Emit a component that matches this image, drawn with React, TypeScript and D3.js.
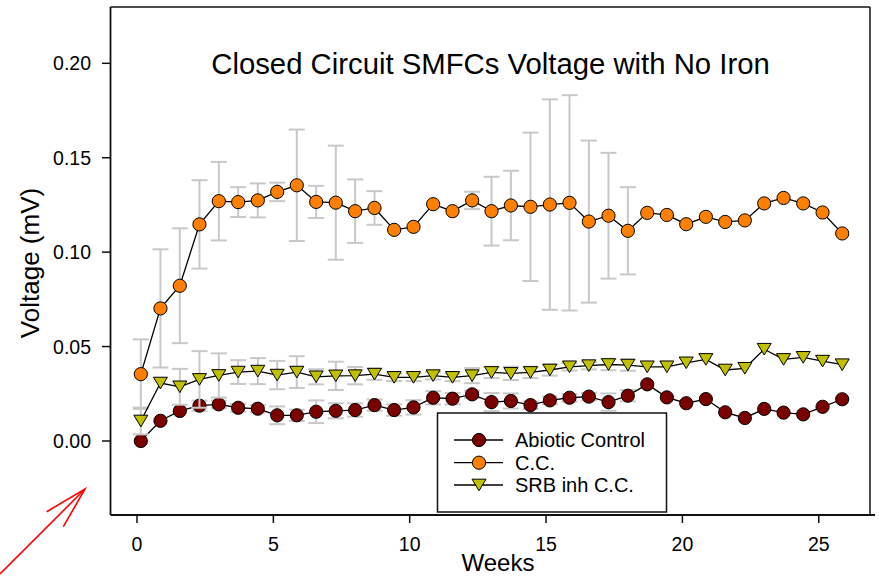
import React from "react";
import * as d3 from "d3";

// ---------- data ----------
const weeks = [0.14, 0.86, 1.57, 2.29, 3.0, 3.71, 4.43, 5.14, 5.86, 6.57, 7.29, 8.0, 8.71, 9.43, 10.14, 10.86, 11.57, 12.29, 13.0, 13.71, 14.43, 15.14, 15.86, 16.57, 17.29, 18.0, 18.71, 19.43, 20.14, 20.86, 21.57, 22.29, 23.0, 23.71, 24.43, 25.14, 25.86];

const abioticVoltage = [0.0, 0.0107, 0.0159, 0.0187, 0.0194, 0.0176, 0.0171, 0.0136, 0.0136, 0.0155, 0.016, 0.0164, 0.019, 0.0164, 0.0178, 0.0229, 0.0224, 0.0247, 0.0206, 0.0212, 0.019, 0.0215, 0.0229, 0.0235, 0.0206, 0.024, 0.03, 0.0231, 0.02, 0.0222, 0.0152, 0.0122, 0.017, 0.015, 0.0141, 0.0181, 0.0221];
const abioticErr = [0, 0, 0, 0.0027, 0.002, 0.002, 0.002, 0.0047, 0.003, 0.006, 0.004, 0.0035, 0.003, 0.003, 0.0038, 0.0035, 0.003, 0.002, 0.0048, 0.004, 0.002, 0.002, 0.002, 0.002, 0.0046, 0.003, 0, 0, 0, 0, 0, 0, 0, 0, 0, 0, 0];

const ccVoltage = [0.0354, 0.0702, 0.0822, 0.1147, 0.127, 0.1265, 0.1274, 0.1319, 0.1354, 0.1266, 0.1262, 0.1217, 0.1234, 0.1118, 0.1134, 0.1254, 0.1217, 0.1274, 0.1217, 0.1247, 0.124, 0.1252, 0.1261, 0.1162, 0.1193, 0.1113, 0.1208, 0.1197, 0.1148, 0.1187, 0.116, 0.1168, 0.1258, 0.1287, 0.1258, 0.121, 0.1099];
const ccErr = [0.0184, 0.0313, 0.0304, 0.0234, 0.0208, 0.0079, 0.009, 0.0049, 0.0295, 0.0085, 0.0302, 0.0168, 0.0089, 0, 0, 0, 0, 0.0046, 0.0182, 0.0184, 0.0393, 0.0557, 0.057, 0.0429, 0.0333, 0.0231, 0, 0, 0, 0, 0, 0, 0, 0, 0, 0, 0];

const srbVoltage = [0.0106, 0.0307, 0.0287, 0.0326, 0.0347, 0.0365, 0.037, 0.0349, 0.0365, 0.034, 0.0345, 0.0346, 0.0354, 0.0337, 0.0337, 0.0346, 0.0337, 0.0346, 0.0363, 0.0358, 0.0363, 0.0376, 0.0393, 0.0399, 0.0405, 0.0402, 0.0393, 0.0393, 0.0414, 0.0432, 0.0376, 0.0385, 0.0486, 0.0432, 0.0443, 0.0423, 0.0404];
const srbErr = [0.0071, 0, 0.0095, 0.015, 0.0117, 0.0063, 0.0069, 0.0075, 0.0084, 0.004, 0.0075, 0.0046, 0.003, 0.002, 0.002, 0.002, 0.002, 0.004, 0.003, 0.0035, 0.003, 0.003, 0.002, 0.002, 0.003, 0.003, 0, 0, 0, 0, 0, 0, 0, 0, 0, 0, 0];

const seriesNames = ["Abiotic Control", "C.C.", "SRB inh C.C."];
const seriesColors = ["#7a0000", "#ff8000", "#c0c000"];
const yTicks = [0, 0.05, 0.1, 0.15, 0.2];
const yTickLabels = ["0.00", "0.05", "0.10", "0.15", "0.20"];
const xTicks = [0, 5, 10, 15, 20, 25];
const titleText = "Closed Circuit SMFCs Voltage with No Iron";
const xLabel = "Weeks";
const yLabel = "Voltage (mV)";

const FONT = "'Liberation Sans', Arial, Helvetica, sans-serif";

export default function App() {
  const W = 879;
  const H = 576;
  const plotLeft = 110.5;
  const plotRight = 870;
  const plotTop = 7;
  const plotBottom = 515;

  const x = d3.scaleLinear().domain([0, 25]).range([137, 818.75]);
  const y = d3.scaleLinear().domain([0, 0.2]).range([441, 63.3]);

  const series = [
    { name: seriesNames[0], vals: abioticVoltage, err: abioticErr, color: seriesColors[0], shape: "circle" },
    { name: seriesNames[1], vals: ccVoltage, err: ccErr, color: seriesColors[1], shape: "circle" },
    { name: seriesNames[2], vals: srbVoltage, err: srbErr, color: seriesColors[2], shape: "triangle" },
  ];

  const line = d3
    .line<number>()
    .x((_, i) => x(weeks[i]))
    .y((d) => y(d));

  const capW = 8;
  const triW = 7;
  const triH = 5.8;

  const marker = (shape: string, cx: number, cy: number, color: string, key: string | number) =>
    shape === "circle" ? (
      <circle key={key} cx={cx} cy={cy} r={6.6} fill={color} stroke="#000" strokeWidth={1} />
    ) : (
      <path
        key={key}
        d={`M${cx - triW},${cy - triH}L${cx + triW},${cy - triH}L${cx},${cy + triH}Z`}
        fill={color}
        stroke="#000"
        strokeWidth={1}
        strokeLinejoin="miter"
      />
    );

  const legendRows = [440, 462.7, 485];

  return (
    <svg
      width={W}
      height={H}
      viewBox={`0 0 ${W} ${H}`}
      style={{ position: "absolute", left: 0, top: 0, background: "#fff", fontFamily: FONT }}
    >
      <rect x={0} y={0} width={W} height={H} fill="#fff" />

      {/* frame */}
      <line x1={plotLeft} y1={plotTop} x2={plotRight} y2={plotTop} stroke="#111" strokeWidth={1.5} />
      <line x1={plotRight} y1={plotTop} x2={plotRight} y2={plotBottom} stroke="#111" strokeWidth={1.5} />
      <line x1={plotLeft} y1={plotTop} x2={plotLeft} y2={plotBottom} stroke="#111" strokeWidth={1.8} />
      <line x1={plotLeft} y1={plotBottom} x2={875} y2={plotBottom} stroke="#111" strokeWidth={1.8} />

      {/* y ticks */}
      {yTicks.map((t, i) => (
        <g key={"yt" + i}>
          <line x1={102} x2={plotLeft} y1={y(t)} y2={y(t)} stroke="#111" strokeWidth={1.5} />
          <text x={91} y={y(t) + 7} textAnchor="end" fontSize={19.5} fill="#000">
            {yTickLabels[i]}
          </text>
        </g>
      ))}

      {/* x ticks */}
      {xTicks.map((t, i) => (
        <g key={"xt" + i}>
          <line x1={x(t)} x2={x(t)} y1={plotBottom} y2={523} stroke="#111" strokeWidth={1.5} />
          <text x={x(t)} y={550.5} textAnchor="middle" fontSize={19.5} fill="#000">
            {t}
          </text>
        </g>
      ))}

      {/* title & labels */}
      <text x={490.5} y={74} textAnchor="middle" fontSize={29.3} fill="#000">
        {titleText}
      </text>
      <text x={498} y={571} textAnchor="middle" fontSize={24} fill="#000">
        {xLabel}
      </text>
      <text transform="translate(39,263) rotate(-90)" textAnchor="middle" fontSize={26} fill="#000">
        {yLabel}
      </text>

      {/* series */}
      {series.map((s, si) => (
        <g key={"s" + si}>
          {s.vals.map((v, i) =>
            s.err[i] > 0 ? (
              <g key={"e" + i} stroke="#c8c8c8" strokeWidth={2} fill="none">
                <line x1={x(weeks[i])} x2={x(weeks[i])} y1={y(v - s.err[i])} y2={y(v + s.err[i])} />
                <line x1={x(weeks[i]) - capW} x2={x(weeks[i]) + capW} y1={y(v + s.err[i])} y2={y(v + s.err[i])} />
                <line x1={x(weeks[i]) - capW} x2={x(weeks[i]) + capW} y1={y(v - s.err[i])} y2={y(v - s.err[i])} />
              </g>
            ) : null
          )}
          <path d={line(s.vals) || ""} fill="none" stroke="#000" strokeWidth={1.3} />
          {s.vals.map((v, i) => marker(s.shape, x(weeks[i]), y(v), s.color, "m" + i))}
        </g>
      ))}

      {/* legend */}
      <rect x={437.5} y={413} width={229} height={99} fill="#fff" stroke="#111" strokeWidth={1.5} />
      {series.map((s, i) => (
        <g key={"lg" + i}>
          <line x1={454} x2={503} y1={legendRows[i]} y2={legendRows[i]} stroke="#000" strokeWidth={1.3} />
          {marker(s.shape, 479, legendRows[i], s.color, "lm" + i)}
          <text x={515} y={legendRows[i] + 7} fontSize={20} fill="#000">
            {s.name}
          </text>
        </g>
      ))}

      {/* red annotation arrow */}
      <g stroke="#ff0000" strokeWidth={1.6} fill="none">
        <line x1={0} y1={574} x2={85} y2={489} />
        <polyline points="46.7,511.7 85,489 63.3,526.7" />
      </g>
    </svg>
  );
}
